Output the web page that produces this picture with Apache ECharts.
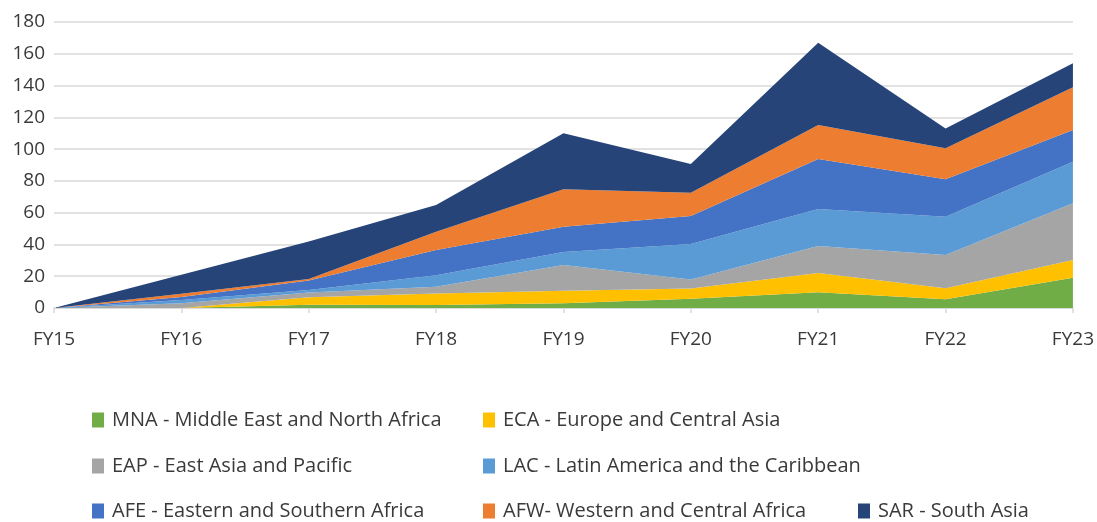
<!DOCTYPE html>
<html>
<head>
<meta charset="utf-8">
<script src="https://cdn.jsdelivr.net/npm/echarts@6/dist/echarts.min.js"></script>
<style>
html,body{margin:0;padding:0;background:#fff;}
#chart{width:1097px;height:522px;}
</style>
</head>
<body>
<div id="chart"></div>
<script>
const categories = ['FY15','FY16','FY17','FY18','FY19','FY20','FY21','FY22','FY23'];
const MNA = [0, 0, 2, 1.9, 3, 5.9, 9.9, 5.5, 19];
const ECA = [0, 0, 4.7, 7.3, 7.9, 6.3, 12.1, 6.9, 11.2];
const EAP = [0, 3, 3, 4.2, 16.1, 5.8, 17, 21, 35.7];
const LAC = [0, 2, 1.6, 7.2, 8.2, 22.3, 23.3, 24.1, 26.1];
const AFE = [0, 2, 6, 15.9, 16, 17.6, 31.5, 23.5, 20];
const AFW = [0, 2, 1, 11.5, 23.5, 14.7, 21.4, 19.5, 26.9];
const SAR = [0, 12, 23.5, 16.8, 35.3, 18, 51.8, 12.5, 15.1];
const yTicks = {min: 0, max: 180, interval: 20};

const names = {
  MNA: 'MNA - Middle East and North Africa',
  ECA: 'ECA - Europe and Central Asia',
  EAP: 'EAP - East Asia and Pacific',
  LAC: 'LAC - Latin America and the Caribbean',
  AFE: 'AFE - Eastern and Southern Africa',
  AFW: 'AFW- Western and Central Africa',
  SAR: 'SAR - South Asia'
};
const colors = {
  MNA: '#70AD47', ECA: '#FFC000', EAP: '#A5A5A5', LAC: '#5B9BD5',
  AFE: '#4472C4', AFW: '#ED7D31', SAR: '#264478'
};
const seriesData = {MNA, ECA, EAP, LAC, AFE, AFW, SAR};
const order = ['MNA','ECA','EAP','LAC','AFE','AFW','SAR'];

const font = '"Open Sans", sans-serif';
const textColor = '#3a3a3a';

const legendPos = {
  MNA: [92, 420], ECA: [483, 420],
  EAP: [92, 466], LAC: [483, 466],
  AFE: [92, 511], AFW: [483, 511], SAR: [858, 511]
};

function mkLegend(k) {
  const p = legendPos[k];
  return {
    left: p[0], top: p[1] - 10, padding: 0,
    itemWidth: 12, itemHeight: 15, itemGap: 0,
    icon: 'rect',
    data: [names[k]],
    textStyle: {fontFamily: font, fontSize: 20, fontWeight: 500, color: textColor, lineHeight: 20, padding: [0, 0, 0, 3]},
    selectedMode: false
  };
}

const chart = echarts.init(document.getElementById('chart'));
chart.setOption({
  animation: false,
  color: order.map(k => colors[k]),
  grid: {left: 54, right: 24, top: 22, bottom: 214, containLabel: false},
  xAxis: {
    type: 'category', data: categories, boundaryGap: false,
    axisLine: {show: true, lineStyle: {color: '#d9d9d9', width: 1.5}},
    axisTick: {show: true, alignWithLabel: true, length: 5, lineStyle: {color: '#d9d9d9', width: 1.5}},
    axisLabel: {fontFamily: font, fontSize: 19, fontWeight: 500, color: textColor, margin: 22}
  },
  yAxis: {
    type: 'value', min: yTicks.min, max: yTicks.max, interval: yTicks.interval,
    axisLine: {show: false}, axisTick: {show: false},
    splitLine: {lineStyle: {color: '#d9d9d9', width: 1.5}},
    axisLabel: {fontFamily: font, fontSize: 19, fontWeight: 500, color: textColor, margin: 9}
  },
  legend: order.map(mkLegend),
  series: order.map(k => ({
    name: names[k], type: 'line', stack: 'total', data: seriesData[k],
    symbol: 'none', lineStyle: {width: 0},
    areaStyle: {color: colors[k], opacity: 1},
    itemStyle: {color: colors[k]}
  }))
});
</script>
</body>
</html>
